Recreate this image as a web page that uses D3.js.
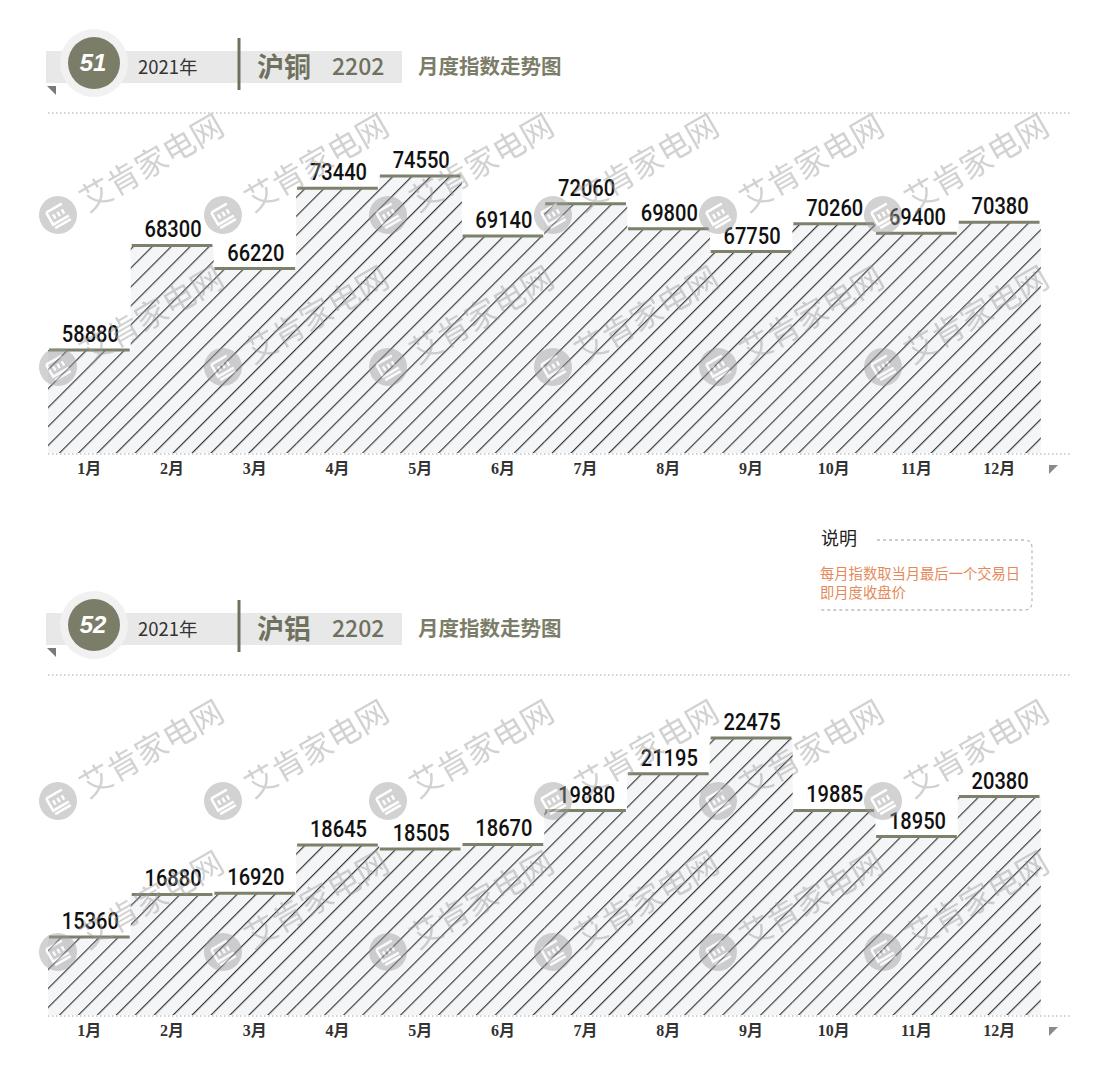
<!DOCTYPE html>
<html>
<head>
<meta charset="utf-8">
<script src="https://cdn.jsdelivr.net/npm/d3@7/dist/d3.min.js"></script>
<style>
  html, body { margin: 0; padding: 0; background: #ffffff; }
  svg { display: block; }
</style>
</head>
<body>
<svg id="chart" width="1108" height="1088"></svg>
<script>
// ---------- data ----------
const months = ["1月","2月","3月","4月","5月","6月","7月","8月","9月","10月","11月","12月"];
const copperValues = [58880,68300,66220,73440,74550,69140,72060,69800,67750,70260,69400,70380];
const aluminumValues = [15360,16880,16920,18645,18505,18670,19880,21195,22475,19885,18950,20380];
const copperDomain = [49600, 80230];
const aluminumDomain = [12570, 24727];
const panelNumbers = ["51", "52"];
const panelNames = ["沪铜", "沪铝"];
const contractCode = "2202";
const yearLabel = "2021年";
const subtitle = "月度指数走势图";
const noteTitle = "说明";
const noteLines = ["每月指数取当月最后一个交易日", "即月度收盘价"];
const watermarkText = "艾肯家电网";

// ---------- setup ----------
const svg = d3.select("#chart");
const OLIVE = "#7b7d68";
const defs = svg.append("defs");

const pat = defs.append("pattern")
  .attr("id", "hatch")
  .attr("patternUnits", "userSpaceOnUse")
  .attr("width", 13.4).attr("height", 20)
  .attr("patternTransform", "rotate(45)");
pat.append("rect").attr("width", 13.4).attr("height", 20).attr("fill", "#f4f5f7");
pat.append("line").attr("x1", 0.6).attr("y1", 0).attr("x2", 0.6).attr("y2", 20)
  .attr("stroke", "#333").attr("stroke-width", 1.15);

function drawPanel(offY, num, name, values, domain) {
  const g = svg.append("g").attr("transform", `translate(0,${offY})`);

  // ----- header -----
  g.append("rect").attr("x", 46).attr("y", 51).attr("width", 356).attr("height", 32).attr("fill", "#e8e8e8");
  g.append("path").attr("d", "M47,86 L56,86 L56,95 Z").attr("fill", "#7a7a7a");
  g.append("circle").attr("cx", 94).attr("cy", 63).attr("r", 34).attr("fill", "#f1f1f1");
  g.append("circle").attr("cx", 94).attr("cy", 63).attr("r", 26).attr("fill", OLIVE);
  g.append("text").attr("x", 93).attr("y", 71).attr("text-anchor", "middle")
    .attr("font-family", "Liberation Sans, Arial, sans-serif").attr("font-weight", "bold")
    .attr("font-style", "italic").attr("font-size", 24).attr("fill", "#ffffff").text(num);
  g.append("text").attr("x", 138).attr("y", 74)
    .attr("font-family", "'Noto Sans CJK SC', sans-serif")
    .attr("font-size", 18.5).attr("fill", "#333").text(yearLabel);
  g.append("line").attr("x1", 239).attr("x2", 239).attr("y1", 38).attr("y2", 90)
    .attr("stroke", "#6f715e").attr("stroke-width", 3);
  g.append("text").attr("x", 257).attr("y", 77)
    .attr("font-family", "'Noto Sans CJK SC', sans-serif").attr("font-weight", "bold")
    .attr("font-size", 27).attr("fill", "#6f715e").text(name);
  g.append("text").attr("x", 332).attr("y", 75)
    .attr("font-family", "'Noto Sans CJK SC', sans-serif").attr("font-weight", 500)
    .attr("font-size", 23).attr("fill", "#6f715e").text(contractCode);
  g.append("text").attr("x", 418).attr("y", 74)
    .attr("font-family", "'Noto Sans CJK SC', sans-serif").attr("font-weight", "bold")
    .attr("font-size", 20.5).attr("fill", OLIVE).text(subtitle);

  // ----- scales -----
  const x = d3.scaleBand().domain(months).range([48, 1040.5]).padding(0);
  const y = d3.scaleLinear().domain(domain).range([453, 113]);

  // top dotted line
  g.append("line").attr("x1", 48).attr("x2", 1070).attr("y1", 113).attr("y2", 113)
    .attr("stroke", "#c4c4c4").attr("stroke-width", 1.5).attr("stroke-dasharray", "1.5,2.5");

  // bars
  g.selectAll("rect.bar").data(values).join("rect").attr("class", "bar")
    .attr("x", (d, i) => x(months[i]))
    .attr("width", x.bandwidth() + 0.3)
    .attr("y", d => y(d))
    .attr("height", d => y(domain[0]) - y(d))
    .attr("fill", "url(#hatch)");

  // caps
  g.selectAll("line.cap").data(values).join("line").attr("class", "cap")
    .attr("x1", (d, i) => x(months[i]) + 1)
    .attr("x2", (d, i) => x(months[i]) + x.bandwidth() - 1)
    .attr("y1", d => y(d)).attr("y2", d => y(d))
    .attr("stroke", "#7d806b").attr("stroke-width", 3);

  // value labels (condensed via horizontal scale)
  g.selectAll("text.val").data(values).join("text").attr("class", "val")
    .attr("transform", (d, i) => `translate(${x(months[i]) + x.bandwidth() / 2 + 1},${y(d) - 8}) scale(0.82,1)`)
    .attr("text-anchor", "middle")
    .attr("font-family", "Roboto, sans-serif").attr("font-weight", 500)
    .attr("font-size", 24.5).attr("fill", "#111")
    .text(d => d);

  // baseline dotted
  g.append("line").attr("x1", 48).attr("x2", 1070).attr("y1", 454).attr("y2", 454)
    .attr("stroke", "#c4c4c4").attr("stroke-width", 1.5).attr("stroke-dasharray", "1.5,2.5");

  // x axis labels
  const axis = g.append("g").attr("transform", "translate(0,460)")
    .call(d3.axisBottom(x).tickSize(0).tickPadding(3));
  axis.select(".domain").remove();
  axis.selectAll("text")
    .attr("font-family", "'Liberation Serif', 'Noto Sans CJK SC', serif")
    .attr("font-weight", "bold").attr("font-size", 16).attr("fill", "#333");

  // axis end triangle
  g.append("path").attr("d", "M1049,465 L1058,465 L1049,474 Z").attr("fill", "#8a8a8a");
}

drawPanel(0, panelNumbers[0], panelNames[0], copperValues, copperDomain);
drawPanel(562, panelNumbers[1], panelNames[1], aluminumValues, aluminumDomain);

// ----- note box -----
const note = svg.append("g");
note.append("text").attr("x", 821).attr("y", 545)
  .attr("font-family", "'Noto Sans CJK SC', sans-serif").attr("font-size", 18).attr("fill", "#222").text(noteTitle);
note.append("path")
  .attr("d", "M877,540 L1024,540 Q1032,540 1032,548 L1032,602 Q1032,610 1024,610 L818,610")
  .attr("fill", "none").attr("stroke", "#bdbdbd").attr("stroke-width", 1.3).attr("stroke-dasharray", "3,3");
note.selectAll("text.nl").data(noteLines).join("text").attr("class", "nl")
  .attr("x", 820).attr("y", (d, i) => 579 + i * 19)
  .attr("font-family", "'Noto Sans CJK SC', sans-serif").attr("font-size", 14.3)
  .attr("fill", "#e5895a").text(d => d);

// ----- watermark -----
const wmRows = [215, 367, 801, 952];
const wmCols = [58, 223, 388, 553, 718, 883];
const wm = svg.append("g").attr("opacity", 0.45);
wmRows.forEach(ry => wmCols.forEach(cx => {
  const u = wm.append("g").attr("transform", `translate(${cx},${ry}) rotate(-30)`);
  u.append("circle").attr("r", 19).attr("fill", "#9a9a9a");
  u.append("path").attr("d", "M-9,-8 L9,-8 M-9,-8 L-9,6 L9,6 M-4,-3 L-4,2 M1,-3 L1,2 M6,-3 L6,2 M-9,10 L9,10")
    .attr("fill", "none").attr("stroke", "#ffffff").attr("stroke-width", 2.5);
  u.append("text").attr("x", 27).attr("y", 13)
    .attr("font-family", "'Noto Sans CJK SC', sans-serif").attr("font-size", 32)
    .attr("fill", "#9a9a9a").text(watermarkText);
}));
</script>
</body>
</html>
